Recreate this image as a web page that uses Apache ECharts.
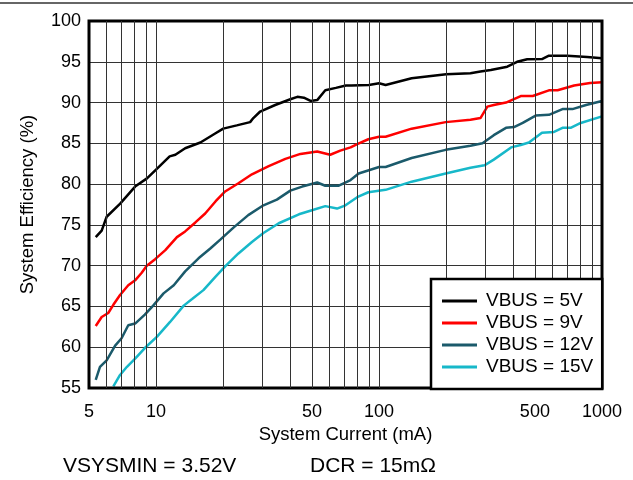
<!DOCTYPE html>
<html>
<head>
<meta charset="utf-8">
<script src="https://cdn.jsdelivr.net/npm/echarts@6/dist/echarts.min.js"></script>
<style>html,body{margin:0;padding:0;background:#fff}#c{width:633px;height:480px}</style>
</head>
<body>
<div id="c"></div>
<script>
// ---- data ----
const seriesNames = ['VBUS = 5V', 'VBUS = 9V', 'VBUS = 12V', 'VBUS = 15V'];
const vbus5_x = [5.36, 5.7, 6.0, 6.9, 8.05, 9.1, 10.1, 11.5, 12.2, 13.5, 15.8, 18.4, 20, 23, 26.4, 27.3, 29.3, 34.2, 40, 43, 46, 49.3, 52.8, 57.4, 64, 71, 75, 90, 100, 107, 140, 200, 257, 285, 317, 376, 416, 462, 538, 578, 698, 858, 1000];
const vbus5_y = [73.5, 74.3, 76.0, 77.6, 79.7, 80.7, 81.9, 83.4, 83.6, 84.4, 85.1, 86.2, 86.8, 87.2, 87.6, 88.1, 88.9, 89.7, 90.4, 90.7, 90.6, 90.2, 90.3, 91.5, 91.8, 92.1, 92.1, 92.15, 92.36, 92.15, 92.97, 93.46, 93.6, 93.8, 94.0, 94.4, 95.0, 95.3, 95.34, 95.75, 95.75, 95.59, 95.42];
const vbus9_x = [5.36, 5.7, 6.1, 6.43, 6.89, 7.5, 8.05, 8.6, 9.08, 9.9, 11.0, 12.4, 13.5, 15.0, 16.6, 18.5, 20.4, 23.4, 26.9, 32, 38, 44.4, 52.8, 60.4, 67, 74.5, 79.8, 89.5, 100, 107, 140, 199, 257, 285, 306, 327, 371, 432, 489, 578, 632, 750, 884, 1000];
const vbus9_y = [62.6, 63.7, 64.2, 65.2, 66.4, 67.6, 68.2, 69.1, 70.0, 70.8, 71.9, 73.5, 74.2, 75.3, 76.4, 77.9, 79.1, 80.1, 81.2, 82.2, 83.1, 83.7, 84.0, 83.6, 84.1, 84.5, 84.9, 85.5, 85.8, 85.8, 86.8, 87.6, 87.9, 88.1, 89.5, 89.7, 90.0, 90.8, 90.8, 91.5, 91.5, 92.1, 92.4, 92.5];
const vbus12_x = [5.36, 5.6, 6.0, 6.55, 7.0, 7.5, 8.05, 8.9, 9.7, 10.8, 12.0, 13.5, 15.5, 17.5, 19.4, 22.3, 25.9, 30.3, 34.8, 40, 45.2, 52.8, 57.4, 66, 74.5, 81, 100, 107, 140, 199, 257, 291, 327, 371, 403, 441, 504, 578, 665, 737, 848, 1000];
const vbus12_y = [56.0, 57.6, 58.4, 60.2, 61.1, 62.7, 62.9, 64.0, 65.1, 66.6, 67.6, 69.3, 70.9, 72.1, 73.2, 74.7, 76.2, 77.4, 78.1, 79.2, 79.7, 80.2, 79.8, 79.8, 80.5, 81.3, 82.1, 82.1, 83.2, 84.2, 84.7, 85.0, 86.0, 86.9, 87.0, 87.5, 88.4, 88.5, 89.2, 89.2, 89.7, 90.2];
const vbus15_x = [6.43, 6.89, 7.4, 8.05, 8.9, 10.1, 11.55, 13.3, 14.5, 16.3, 18.4, 20.4, 23.4, 26.9, 30.3, 35.5, 43.7, 50, 57.4, 64.8, 70.7, 79.8, 89.5, 107, 140, 199, 257, 297, 327, 391, 432, 470, 538, 609, 665, 723, 803, 1000];
const vbus15_y = [55.2, 56.6, 57.6, 58.6, 59.9, 61.3, 63.1, 65.1, 65.9, 67.0, 68.6, 69.9, 71.5, 72.9, 74.0, 75.2, 76.3, 76.8, 77.3, 77.0, 77.4, 78.4, 79.0, 79.3, 80.3, 81.3, 82.0, 82.3, 83.0, 84.5, 84.8, 85.1, 86.3, 86.4, 86.9, 86.9, 87.5, 88.3];
const xTickLabels = [5, 10, 50, 100, 500, 1000];
const xGridValues = [6, 7, 8, 9, 10, 20, 30, 40, 50, 60, 70, 80, 90, 100, 200, 300, 400, 500, 600, 700, 800, 900];
const colors = ['#000000', '#ff0000', '#1b5a6b', '#17b8c9'];

const zip = (xs, ys) => xs.map((x, i) => [x, ys[i]]);
const allData = [zip(vbus5_x, vbus5_y), zip(vbus9_x, vbus9_y), zip(vbus12_x, vbus12_y), zip(vbus15_x, vbus15_y)];
const FONT = 'Liberation Sans';

const chart = echarts.init(document.getElementById('c'), null, {renderer: 'canvas'});
const series = [{
  type: 'line', name: '_grid', data: [], silent: true, z: 1,
  markLine: {
    silent: true, symbol: ['none', 'none'], animation: false,
    label: {show: false},
    lineStyle: {color: '#333333', width: 1, type: 'solid'},
    emphasis: {disabled: true},
    data: xGridValues.map(v => ({xAxis: v}))
  }
}];
allData.forEach((d, i) => series.push({
  type: 'line', name: seriesNames[i], data: d, showSymbol: false, symbol: 'none',
  z: 3, lineStyle: {color: colors[i], width: 2.5}, itemStyle: {color: colors[i]}, clip: true
}));

chart.setOption({
  animation: false,
  backgroundColor: '#ffffff',
  grid: {left: 89, top: 21, right: 31, bottom: 92, show: true, borderColor: '#000', borderWidth: 3, z: 5},
  xAxis: {
    type: 'log', logBase: 10, min: 5, max: 1000,
    name: 'System Current (mA)', nameLocation: 'middle', nameGap: 35,
    nameTextStyle: {fontFamily: FONT, fontSize: 18.5, color: '#000'},
    axisLine: {show: false}, axisTick: {show: false}, splitLine: {show: false},
    axisLabel: {customValues: xTickLabels, formatter: v => String(Math.round(v)), fontFamily: FONT, fontSize: 18, color: '#000', margin: 15}
  },
  yAxis: {
    type: 'value', min: 55, max: 100, interval: 5,
    name: 'System Efficiency (%)', nameLocation: 'middle', nameGap: 52,
    nameTextStyle: {fontFamily: FONT, fontSize: 18.5, color: '#000'},
    axisLine: {show: false}, axisTick: {show: false},
    splitLine: {show: true, lineStyle: {color: '#333333', width: 1}},
    axisLabel: {fontFamily: FONT, fontSize: 18, color: '#000', margin: 8}
  },
  legend: {
    data: seriesNames.map(n => ({name: n, icon: 'rect'})), orient: 'vertical', left: 431, top: 279,
    backgroundColor: '#fff', borderColor: '#000', borderWidth: 2.5,
    padding: [12, 9, 12, 11], itemGap: 2, itemWidth: 35, itemHeight: 3, itemGap: 2,
    itemStyle: {borderWidth: 0},
    textStyle: {fontFamily: FONT, fontSize: 19, color: '#000', lineHeight: 20, padding: [0, 0, 0, 4]},
    z: 10
  },
  graphic: [
    {type: 'line', shape: {x1: 0, y1: 3, x2: 633, y2: 3}, style: {stroke: '#333', lineWidth: 1.5}},
    {type: 'text', left: 63, top: 456, style: {text: 'VSYSMIN = 3.52V', font: '21px "Liberation Sans"', fill: '#000'}},
    {type: 'text', left: 310, top: 456, style: {text: 'DCR = 15mΩ', font: '21px "Liberation Sans"', fill: '#000'}}
  ],
  series: series
});
</script>
</body>
</html>
